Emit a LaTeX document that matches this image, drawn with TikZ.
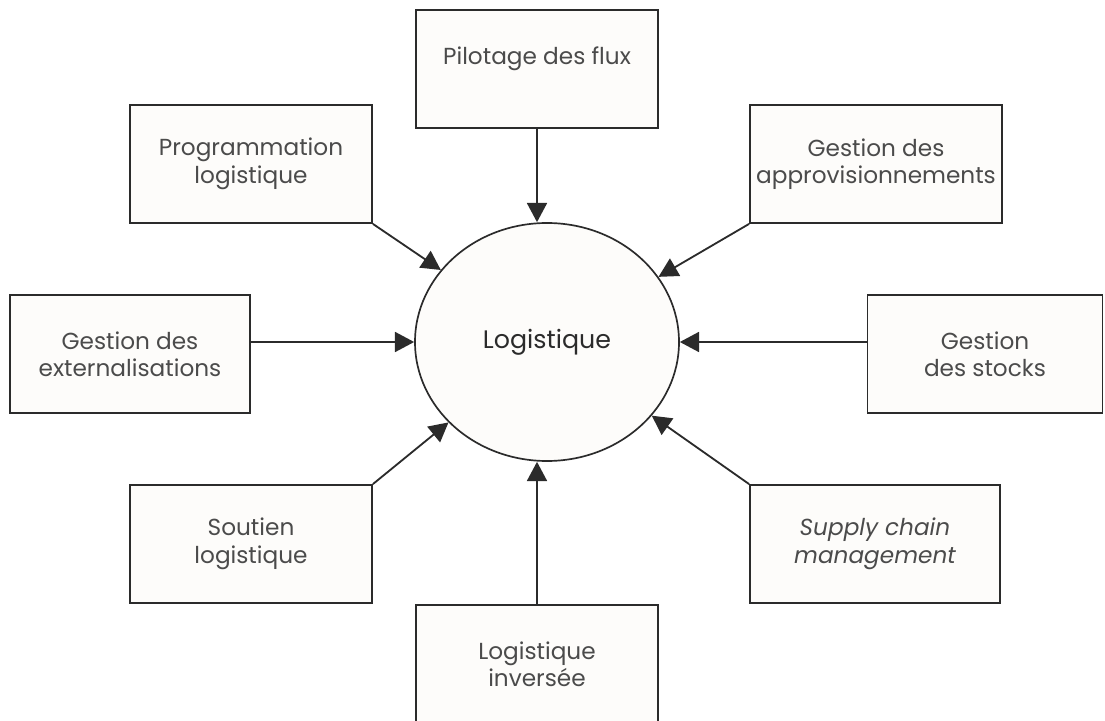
\documentclass[tikz,border=0pt]{standalone}
\usepackage{fontspec}
\setsansfont{Poppins}
\usepackage{xcolor}
\usepackage{tikz}
\usetikzlibrary{arrows.meta,positioning,shapes.geometric}
\definecolor{ink}{HTML}{2B2B2B}
\definecolor{paper}{HTML}{FDFCFA}
\tikzset{
  task/.style={draw=ink,fill=paper,line width=1.3pt,minimum width=#1,minimum height=2.95cm,
               align=center,text=ink!85,font=\sffamily\fontsize{16.5}{19.5}\selectfont,inner sep=2pt},
  task/.default=6.05cm,
  hub/.style={ellipse,draw=ink,fill=paper,line width=1.2pt,minimum width=6.6cm,minimum height=5.95cm,
              text=ink,font=\sffamily\fontsize{18}{21}\selectfont},
  flow/.style={-{Triangle[length=4.8mm,width=5mm]},line width=1.3pt,draw=ink},
}
\begin{document}
\begin{tikzpicture}
  \useasboundingbox (0,0) rectangle (27.625,18);
  \node[hub] (lg) at (13.675,9.45) {Logistique};
  \node[task] (pil) at (13.425,16.275) {Pilotage des flux\\\phantom{x}};
  \node[task] (prog) at (6.275,13.9) {Programmation\\logistique};
  \node[task=6.3cm] (appro) at (21.9,13.9) {Gestion des\\approvisionnements};
  \node[task=6cm] (ext) at (3.25,9.15) {Gestion des\\externalisations};
  \node[task=5.875cm] (stk) at (24.625,9.15) {Gestion\\des stocks};
  \node[task] (sout) at (6.275,4.4) {Soutien\\logistique};
  \node[task=6.25cm] (scm) at (21.875,4.4) {\itshape Supply chain\\\itshape management};
  \node[task] (inv) at (13.425,1.4) {Logistique\\invers\'ee};
  % arrows into the hub
  \draw[flow] (pil) -- (pil |- lg.north);
  \draw[flow] (inv) -- (inv |- lg.south);
  \draw[flow] (ext.east |- lg.west) -- (lg.west);
  \draw[flow] (stk.west |- lg.east) -- (lg.east);
  \draw[flow] (prog.south east) -- (lg);
  \draw[flow] (appro.south west) -- (lg);
  \draw[flow] (sout.north east) -- (lg);
  \draw[flow] (scm.north west) -- (lg);
\end{tikzpicture}
\end{document}
